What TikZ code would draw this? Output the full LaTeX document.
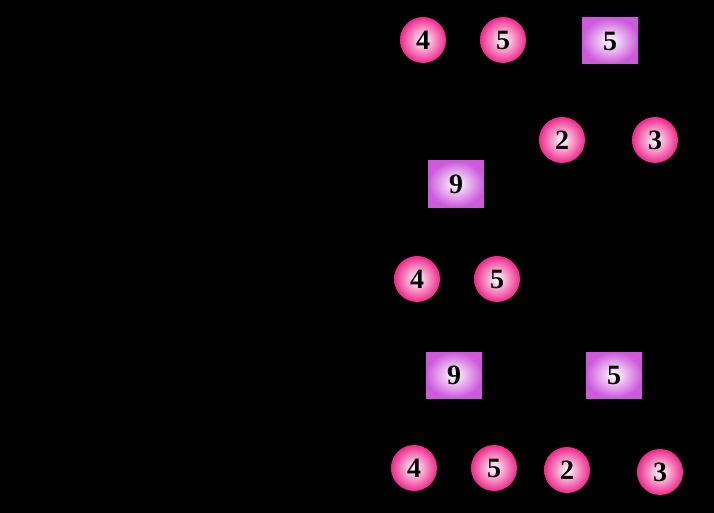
\documentclass[tikz,border=0pt]{standalone}
\usepackage{fontspec}
\setmainfont{Liberation Serif}
\begin{document}
\begin{tikzpicture}[x=1pt,y=-1pt,
  cn/.style={circle,minimum size=46pt,inner sep=0pt,inner color=white,outer color={rgb,255:red,240;green,40;blue,140},font=\bfseries\fontsize{28}{28}\selectfont},
  sq/.style={rectangle,minimum width=56pt,minimum height=46pt,inner sep=0pt,inner color=white,outer color={rgb,255:red,205;green,90;blue,220},font=\bfseries\fontsize{28}{28}\selectfont}]
\fill[black] (0,0) rectangle (714,513);
\useasboundingbox (0,0) rectangle (714,513);
\node[cn] (a4) at (423,40) {4};
\node[cn] (a5) at (503,40) {5};
\node[sq] (s5a) at (610,41) {5};
\node[cn] (b2) at (562,140) {2};
\node[cn] (b3) at (655,140) {3};
\node[sq] (s9a) at (456,184) {9};
\node[cn] (c4) at (417,279) {4};
\node[cn] (c5) at (497,279) {5};
\node[sq] (s9b) at (454,375) {9};
\node[sq] (s5b) at (614,375) {5};
\node[cn] (d4) at (414,468) {4};
\node[cn] (d5) at (494,468) {5};
\node[cn] (d2) at (567,470) {2};
\node[cn] (d3) at (660,472) {3};
\end{tikzpicture}
\end{document}
